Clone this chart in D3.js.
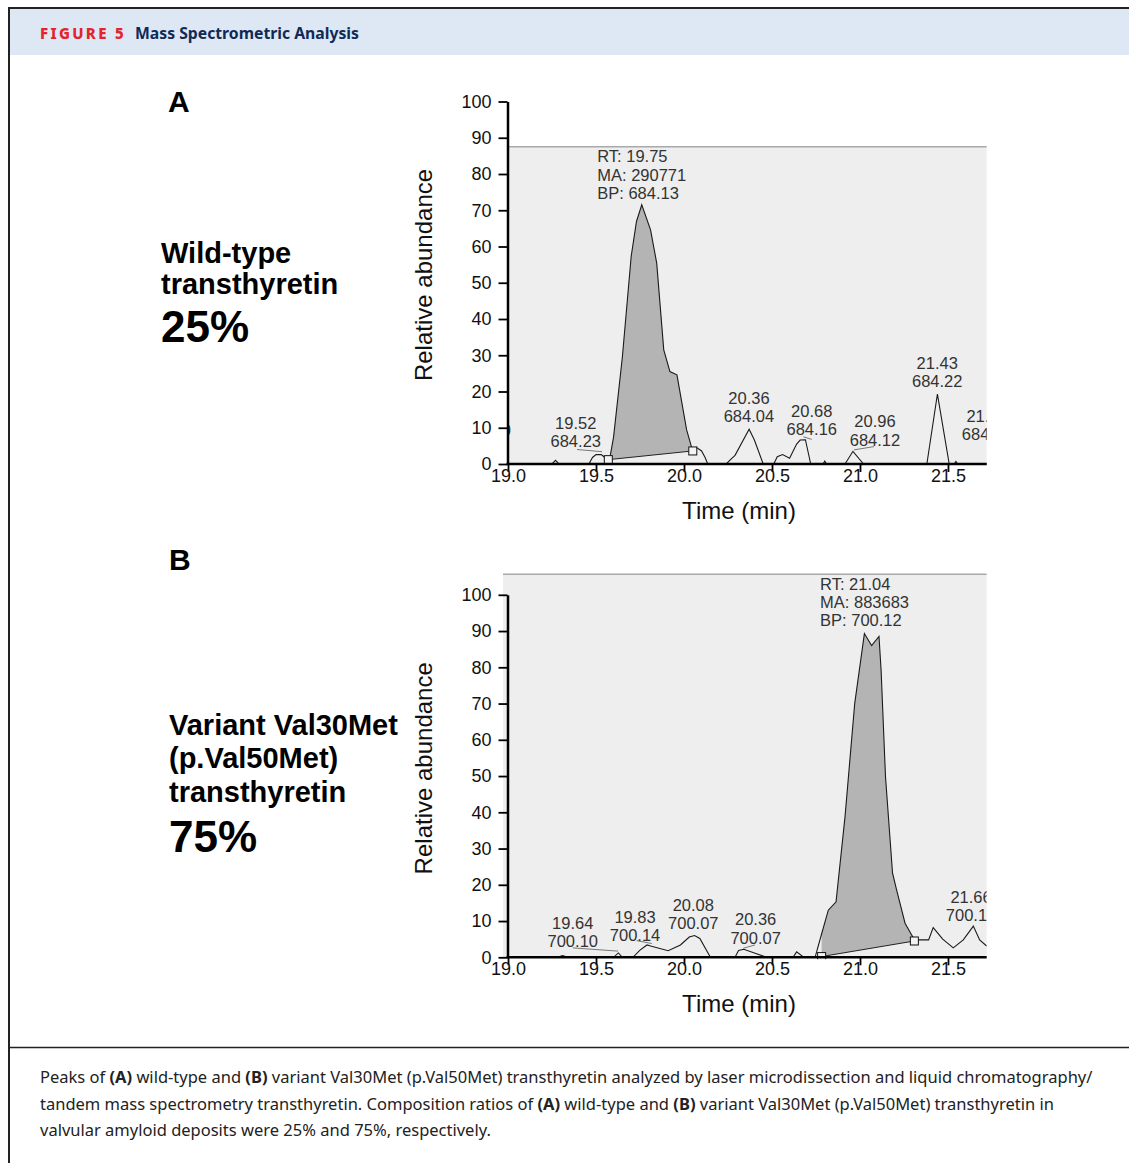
<!DOCTYPE html>
<html>
<head>
<meta charset="utf-8">
<script src="https://cdn.jsdelivr.net/npm/d3@7"></script>
<style>
  body { margin: 0; background: #fff; }
  svg { display: block; }
</style>
</head>
<body>
<svg id="fig" width="1129" height="1163"></svg>
<script>
// =========================
// DATA
// =========================
var xTicks = [19.0, 19.5, 20.0, 20.5, 21.0, 21.5];
var yTicks = [0, 10, 20, 30, 40, 50, 60, 70, 80, 90, 100];

// chromatogram traces: [time (min), relative abundance]
var traceA = [
  [19.00, 0], [19.25, 0], [19.27, 1.0], [19.29, 0], [19.46, 0], [19.48, 1.8], [19.50, 2.6],
  [19.53, 2.6], [19.55, 1.8], [19.57, 1.2], [19.58, 2.0], [19.60, 7.5], [19.65, 29.6],
  [19.70, 57.3], [19.73, 66.9], [19.76, 71.5], [19.81, 64.6], [19.845, 55.4], [19.885, 31.5],
  [19.92, 25.5], [19.96, 24.6], [20.015, 9.4], [20.045, 4.3], [20.07, 4.6], [20.10, 3.6],
  [20.12, 1.8], [20.135, 0], [20.24, 0], [20.27, 1.5], [20.29, 2.4], [20.37, 9.6], [20.40, 6.6],
  [20.45, 0], [20.51, 0], [20.53, 2.0], [20.56, 2.6], [20.60, 1.6], [20.64, 5.5], [20.66, 6.6],
  [20.69, 6.7], [20.72, 0], [20.79, 0], [20.80, 0.8], [20.81, 0], [20.915, 0], [20.96, 3.5],
  [21.02, 0], [21.38, 0], [21.44, 19.3], [21.507, 0], [21.535, 0], [21.545, 0.7], [21.555, 0],
  [21.72, 0]
];
var traceB = [
  [19.00, 0], [19.28, 0], [19.31, 0.5], [19.34, 0], [19.60, 0], [19.627, 1.2], [19.65, 0],
  [19.71, 0], [19.75, 2.0], [19.79, 3.4], [19.81, 3.1], [19.91, 1.8], [19.98, 3.4], [20.03, 5.6],
  [20.06, 6.0], [20.09, 5.2], [20.15, 0], [20.29, 0], [20.31, 1.9], [20.34, 2.2], [20.40, 1.2],
  [20.47, 0], [20.62, 0], [20.64, 1.5], [20.68, 0], [20.745, 0], [20.777, 5.6], [20.82, 13],
  [20.864, 15.3], [20.915, 38.8], [20.97, 70], [21.025, 89.3], [21.066, 86], [21.108, 88.5],
  [21.12, 79.2], [21.145, 49.8], [21.185, 23.2], [21.208, 18.6], [21.256, 9.4], [21.31, 4.8],
  [21.39, 4.8], [21.416, 8.2], [21.47, 5.0], [21.53, 2.6], [21.587, 4.8], [21.644, 8.6],
  [21.68, 4.8], [21.72, 3.1]
];

// integrated peak: start and end [time, baseline abundance]
var peakA = [[19.57, 1.2], [20.05, 3.6]];
var peakB = [[20.782, 0.2], [21.309, 4.5]];

// peak labels: [time, abundance of last line, text lines...]
var labelsA = [
  [18.99, 9.4, "0"],
  [19.385, 6.15, "19.52", "684.23"],
  [20.369, 13.05, "20.36", "684.04"],
  [20.726, 9.57, "20.68", "684.16"],
  [21.085, 6.62, "20.96", "684.12"],
  [21.439, 22.7, "21.43", "684.22"],
  [21.722, 8.2, "21.72", "684.13"]
];
var labelsB = [
  [19.368, 4.3, "19.64", "700.10"],
  [19.722, 6.1, "19.83", "700.14"],
  [20.053, 9.3, "20.08", "700.07"],
  [20.407, 5.4, "20.36", "700.07"],
  [21.631, 11.6, "21.66", "700.13"]
];

// leader lines [t1, a1, t2, a2]
var leadersA = [[19.392, 4.0, 19.534, 3.4], [20.678, 7.5, 20.726, 6.8], [20.966, 3.9, 21.08, 4.8]];
var leadersB = [[19.369, 2.6, 19.625, 1.7], [19.731, 4.6, 19.817, 3.8], [20.337, 2.5, 20.403, 3.4]];

// peak info box: [time of left edge, abundance of last line]
var infoA = [19.507, 74.7, "RT: 19.75", "MA: 290771", "BP: 684.13"];
var infoB = [20.773, 92.9, "RT: 21.04", "MA: 883683", "BP: 700.12"];

var sideA = ["Wild-type", "transthyretin"];
var sideB = ["Variant Val30Met", "(p.Val50Met)", "transthyretin"];
var pctA = "25%", pctB = "75%";

var captionLines = [
  [["Peaks of ", 0], ["(A)", 1], [" wild-type and ", 0], ["(B)", 1], [" variant Val30Met (p.Val50Met) transthyretin analyzed by laser microdissection and liquid chromatography/", 0]],
  [["tandem mass spectrometry transthyretin. Composition ratios of ", 0], ["(A)", 1], [" wild-type and ", 0], ["(B)", 1], [" variant Val30Met (p.Val50Met) transthyretin in", 0]],
  [["valvular amyloid deposits were 25% and 75%, respectively.", 0]]
];

// ========
// # MAIN #
// ========
var svg = d3.select("#fig");
var plotFont = "'Liberation Sans', Arial, sans-serif";
var capFont = "'Noto Sans', 'Open Sans', sans-serif";

var x = d3.scaleLinear().domain([19.0, 21.72]).range([508, 986.7]);

// frame and header band
svg.append("rect").attr("x", 9).attr("y", 9).attr("width", 1120).attr("height", 46).attr("fill", "#dde8f4");
svg.append("line").attr("x1", 8).attr("x2", 1129).attr("y1", 8).attr("y2", 8).attr("stroke", "#222").attr("stroke-width", 2);
svg.append("line").attr("x1", 9).attr("x2", 9).attr("y1", 7).attr("y2", 1163).attr("stroke", "#222").attr("stroke-width", 2);
svg.append("line").attr("x1", 9).attr("x2", 1129).attr("y1", 1047.5).attr("y2", 1047.5).attr("stroke", "#222").attr("stroke-width", 1.5);

// fit text to a target width by changing font-size
function fitText(sel, target) {
  var w = sel.node().getComputedTextLength();
  var fs = parseFloat(sel.attr("font-size"));
  sel.attr("font-size", fs * target / w);
  return fs * target / w;
}

svg.append("text").attr("x", 40).attr("y", 39)
  .attr("font-family", capFont).attr("font-weight", 800).attr("font-size", 15)
  .attr("letter-spacing", 2.3).attr("fill", "#e2242c").text("FIGURE 5");
var ttl = svg.append("text").attr("x", 135).attr("y", 39)
  .attr("font-family", capFont).attr("font-weight", 700).attr("font-size", 16)
  .attr("fill", "#102a58").text("Mass Spectrometric Analysis");
fitText(ttl, 224);

// caption
var capSize = null;
captionLines.forEach(function (line, i) {
  var t = svg.append("text").attr("x", 40).attr("y", 1083 + i * 26.5)
    .attr("font-family", capFont).attr("font-size", 16).attr("fill", "#222");
  line.forEach(function (p) {
    t.append("tspan").attr("font-weight", p[1] ? 700 : 400).text(p[0]);
  });
  if (i === 0) capSize = fitText(t, 1053);
  else t.attr("font-size", capSize);
});

function interp(trace, t) {
  for (var i = 1; i < trace.length; i++) {
    if (trace[i][0] >= t) {
      var a = trace[i - 1], b = trace[i];
      return a[1] + (b[1] - a[1]) * (t - a[0]) / (b[0] - a[0]);
    }
  }
  return trace[trace.length - 1][1];
}

function drawPanel(cfg) {
  var y = d3.scaleLinear().domain([0, 100]).range([cfg.y0, cfg.y0 - 362.5]);
  var g = svg.append("g");
  var left = x(19.0) + cfg.bgShift, right = x(21.72);

  // plot background
  g.append("rect").attr("x", left).attr("y", y(cfg.bgTop))
    .attr("width", right - left).attr("height", cfg.y0 - y(cfg.bgTop)).attr("fill", "#eeeeee");
  g.append("line").attr("x1", left).attr("x2", right).attr("y1", y(cfg.bgTop)).attr("y2", y(cfg.bgTop))
    .attr("stroke", "#a9a9a9").attr("stroke-width", 1.5);

  var clipId = "clip" + cfg.id;
  svg.append("clipPath").attr("id", clipId).append("rect")
    .attr("x", x(19.0)).attr("y", y(cfg.bgTop)).attr("width", right - x(19.0)).attr("height", cfg.y0 - y(cfg.bgTop) + 2);
  var pg = g.append("g").attr("clip-path", "url(#" + clipId + ")");

  // integrated peak fill
  var t1 = cfg.peak[0][0], b1 = cfg.peak[0][1], t2 = cfg.peak[1][0], b2 = cfg.peak[1][1];
  var pts = [[t1, interp(cfg.trace, t1)]]
    .concat(cfg.trace.filter(function (d) { return d[0] > t1 && d[0] < t2; }))
    .concat([[t2, interp(cfg.trace, t2)]]);
  var base = function (t) { return b1 + (b2 - b1) * (t - t1) / (t2 - t1); };
  pg.append("path").datum(pts)
    .attr("d", d3.area().x(function (d) { return x(d[0]); })
      .y0(function (d) { return y(base(d[0])); })
      .y1(function (d) { return y(d[1]); }))
    .attr("fill", "#b4b4b4");
  pg.append("line").attr("x1", x(t1)).attr("y1", y(b1)).attr("x2", x(t2)).attr("y2", y(b2))
    .attr("stroke", "#222").attr("stroke-width", 1);

  // trace
  pg.append("path").datum(cfg.trace)
    .attr("d", d3.line().x(function (d) { return x(d[0]); }).y(function (d) { return y(d[1]); }))
    .attr("fill", "none").attr("stroke", "#1a1a1a").attr("stroke-width", 1.1);

  // leaders
  pg.selectAll(".leader").data(cfg.leaders).enter().append("line")
    .attr("x1", function (d) { return x(d[0]); }).attr("y1", function (d) { return y(d[1]); })
    .attr("x2", function (d) { return x(d[2]); }).attr("y2", function (d) { return y(d[3]); })
    .attr("stroke", "#777").attr("stroke-width", 1);

  // integration markers
  pg.selectAll(".mk").data(cfg.peak).enter().append("rect")
    .attr("x", function (d) { return x(d[0]) - 4; }).attr("y", function (d) { return y(d[1]) - 4; })
    .attr("width", 8).attr("height", 8).attr("fill", "#f4f4f4").attr("stroke", "#111").attr("stroke-width", 1);

  // peak labels
  cfg.labels.forEach(function (l) {
    var lines = l.slice(2);
    lines.forEach(function (s, i) {
      pg.append("text").attr("x", x(l[0])).attr("y", y(l[1]) + (i - (lines.length - 1)) * 18.4)
        .attr("dy", "0.35em").attr("text-anchor", "middle")
        .attr("font-family", plotFont).attr("font-size", 16.5).attr("fill", "#333").text(s);
    });
  });
  var info = cfg.info.slice(2);
  info.forEach(function (s, i) {
    pg.append("text").attr("x", x(cfg.info[0])).attr("y", y(cfg.info[1]) + (i - (info.length - 1)) * 18.4)
      .attr("dy", "0.35em").attr("font-family", plotFont).attr("font-size", 16.5).attr("fill", "#333").text(s);
  });

  // axes
  var ya = g.append("g").attr("transform", "translate(507.5,0)")
    .call(d3.axisLeft(y).tickValues(yTicks).tickSize(9).tickPadding(7).tickSizeOuter(0));
  var xa = g.append("g").attr("transform", "translate(0," + cfg.y0 + ")")
    .call(d3.axisBottom(x).tickValues(xTicks).tickSize(8).tickPadding(-3).tickSizeOuter(0)
      .tickFormat(d3.format(".1f")));
  [ya, xa].forEach(function (a) {
    a.select(".domain").attr("stroke", "#000").attr("stroke-width", 2.5);
    a.selectAll(".tick line").attr("stroke", "#000").attr("stroke-width", 1.8);
    a.selectAll("text").attr("font-family", plotFont).attr("font-size", 18).attr("fill", "#111");
  });
  xa.select(".domain").attr("d", "M" + (x(19.0) - 1.5) + ",0H" + right);

  // axis titles
  g.append("text").attr("transform", "translate(432," + (cfg.y0 - 189) + ") rotate(-90)")
    .attr("text-anchor", "middle").attr("font-family", plotFont).attr("font-size", 24).attr("fill", "#111")
    .text("Relative abundance");
  g.append("text").attr("x", 739).attr("y", cfg.y0 + 55).attr("text-anchor", "middle")
    .attr("font-family", plotFont).attr("font-size", 24).attr("fill", "#111").text("Time (min)");

  // side text
  svg.append("text").attr("x", cfg.letterX).attr("y", cfg.letterY)
    .attr("font-family", plotFont).attr("font-weight", 700).attr("font-size", 30).text(cfg.letter);
  cfg.side.forEach(function (s, i) {
    svg.append("text").attr("x", cfg.sideX).attr("y", cfg.sideY + i * cfg.sideGap)
      .attr("font-family", plotFont).attr("font-weight", 700).attr("font-size", 29).text(s);
  });
  svg.append("text").attr("x", cfg.sideX).attr("y", cfg.pctY)
    .attr("font-family", plotFont).attr("font-weight", 700).attr("font-size", 44).text(cfg.pct);
}

drawPanel({
  id: "A", y0: 464, trace: traceA, peak: peakA, labels: labelsA, leaders: leadersA, info: infoA,
  bgTop: 87.5, bgShift: 1, letter: "A", letterX: 168, letterY: 111.5,
  side: sideA, pct: pctA, sideX: 161, sideY: 263, sideGap: 31, pctY: 342
});
drawPanel({
  id: "B", y0: 957.3, trace: traceB, peak: peakB, labels: labelsB, leaders: leadersB, info: infoB,
  bgTop: 105.7, bgShift: -5, letter: "B", letterX: 169, letterY: 570,
  side: sideB, pct: pctB, sideX: 169, sideY: 735, sideGap: 33.3, pctY: 851.5
});
</script>
</body>
</html>
